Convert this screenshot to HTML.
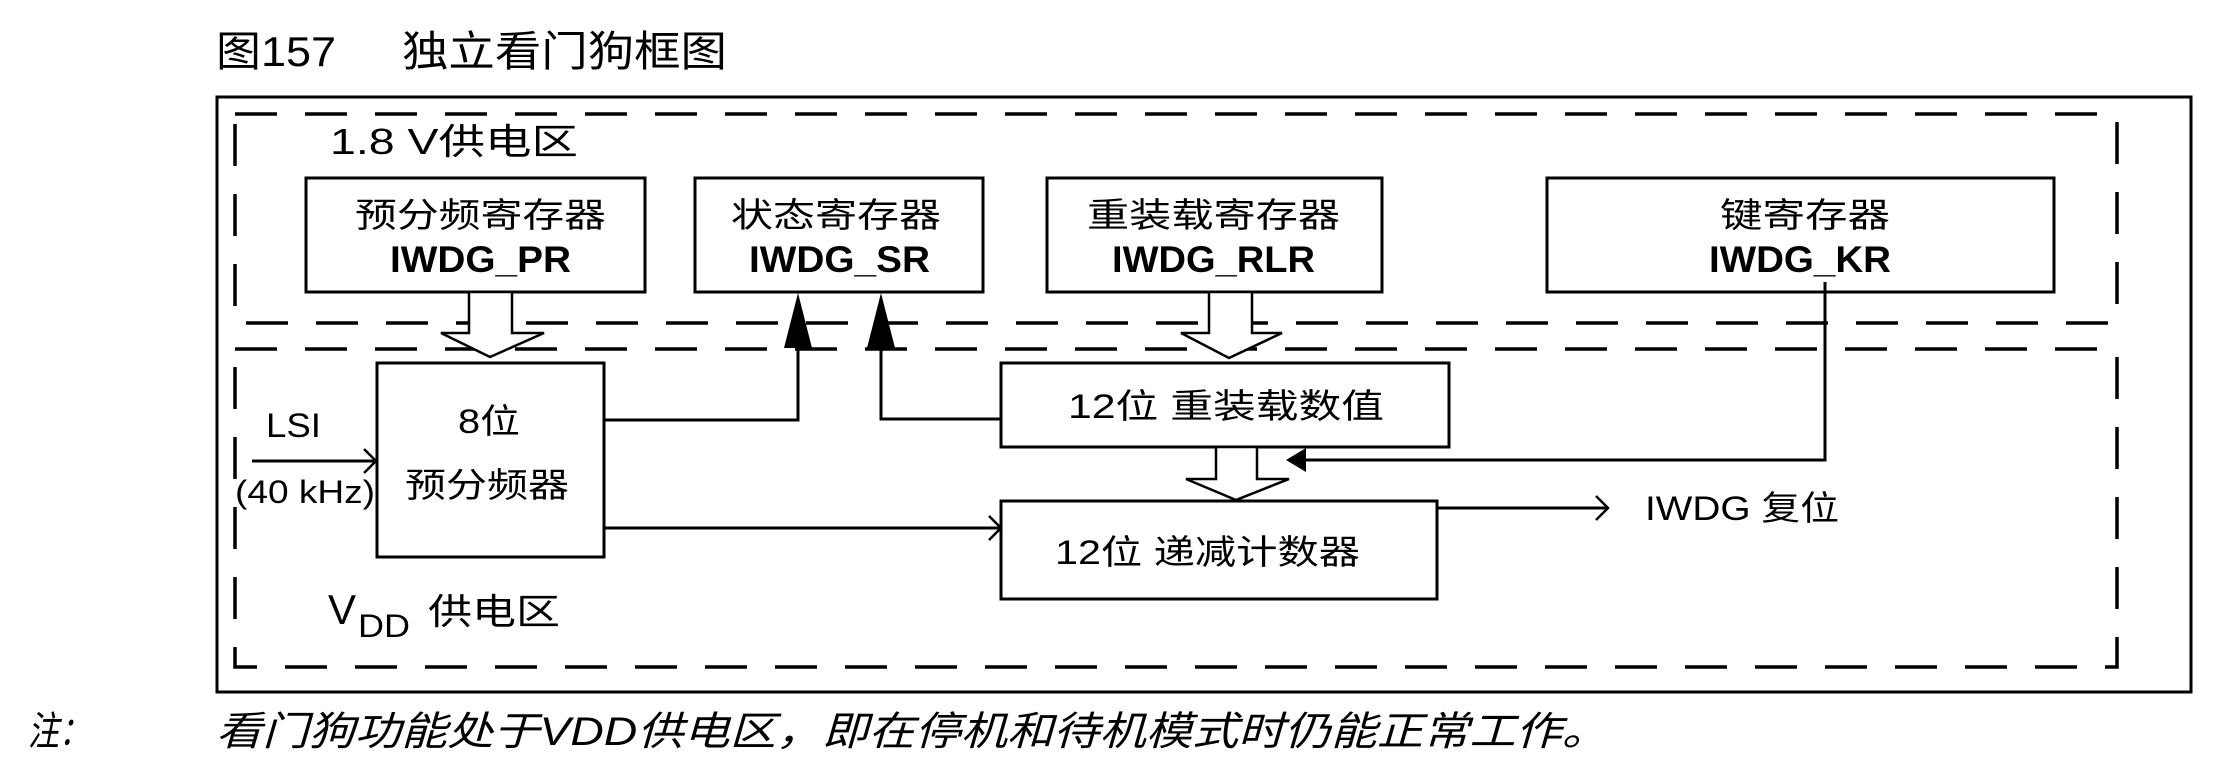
<!DOCTYPE html>
<html><head><meta charset="utf-8"><style>
html,body{margin:0;padding:0;background:#fff;}
svg{display:block;}
text{font-family:"Liberation Sans","Noto Sans CJK SC",sans-serif;fill:#000;}
</style></head><body>
<svg width="2223" height="779" viewBox="0 0 2223 779" xmlns="http://www.w3.org/2000/svg">
<!-- title -->
<text x="216" y="66" font-size="42" textLength="120" lengthAdjust="spacingAndGlyphs">图157</text>
<text x="402" y="66" font-size="42" textLength="325" lengthAdjust="spacingAndGlyphs">独立看门狗框图</text>

<!-- outer box -->
<rect x="217" y="97" width="1974" height="595" fill="none" stroke="#000" stroke-width="3"/>
<!-- dashed regions -->
<rect x="235" y="114" width="1882" height="209" fill="none" stroke="#000" stroke-width="3.5" stroke-dasharray="42 28"/>
<rect x="235" y="349" width="1882" height="318" fill="none" stroke="#000" stroke-width="3.5" stroke-dasharray="42 28"/>

<text x="330" y="154" font-size="36" textLength="248" lengthAdjust="spacingAndGlyphs">1.8 V供电区</text>

<!-- top boxes -->
<g fill="#fff" stroke="#000" stroke-width="3">
<rect x="306" y="178" width="339" height="114"/>
<rect x="695" y="178" width="288" height="114"/>
<rect x="1047" y="178" width="335" height="114"/>
<rect x="1547" y="178" width="507" height="114"/>
</g>
<g font-size="34">
<text x="355" y="227" textLength="251" lengthAdjust="spacingAndGlyphs">预分频寄存器</text>
<text x="731" y="227" textLength="210" lengthAdjust="spacingAndGlyphs">状态寄存器</text>
<text x="1087" y="227" textLength="253" lengthAdjust="spacingAndGlyphs">重装载寄存器</text>
<text x="1720" y="227" textLength="170" lengthAdjust="spacingAndGlyphs">键寄存器</text>
</g>
<g font-size="37" font-weight="bold">
<text x="390" y="272" textLength="181" lengthAdjust="spacingAndGlyphs">IWDG_PR</text>
<text x="749" y="272" textLength="181" lengthAdjust="spacingAndGlyphs">IWDG_SR</text>
<text x="1112" y="272" textLength="203" lengthAdjust="spacingAndGlyphs">IWDG_RLR</text>
<text x="1709" y="272" textLength="182" lengthAdjust="spacingAndGlyphs">IWDG_KR</text>
</g>

<!-- lower boxes -->
<g fill="#fff" stroke="#000" stroke-width="3">
<rect x="377" y="363" width="227" height="194"/>
<rect x="1001" y="363" width="448" height="84"/>
<rect x="1001" y="501" width="436" height="98"/>
</g>
<text x="458" y="433" font-size="34" textLength="62" lengthAdjust="spacingAndGlyphs">8位</text>
<text x="405" y="497" font-size="34" textLength="164" lengthAdjust="spacingAndGlyphs">预分频器</text>
<text x="1068" y="418" font-size="34" textLength="316" lengthAdjust="spacingAndGlyphs">12位 重装载数值</text>
<text x="1055" y="564" font-size="34" textLength="305" lengthAdjust="spacingAndGlyphs">12位 递减计数器</text>

<!-- hollow arrows -->
<g fill="#fff" stroke="#000" stroke-width="2.5" stroke-linejoin="miter">
<polygon points="469,292 512,292 512,333 544,333 490,357 441,333 469,333"/>
<polygon points="1209,292 1252,292 1252,333 1282,333 1229,358 1181,333 1209,333"/>
<polygon points="1216,447 1257,447 1257,479 1289,479 1236,500 1186,479 1216,479"/>
</g>

<!-- lines -->
<g fill="none" stroke="#000" stroke-width="3">
<polyline points="604,420 798,420 798,330"/>
<polyline points="1001,419 881,419 881,330"/>
<polyline points="1825,282 1825,460 1300,460"/>
<line x1="252" y1="461" x2="374" y2="461"/>
<line x1="604" y1="528" x2="999" y2="528"/>
<line x1="1437" y1="508" x2="1606" y2="508"/>
</g>
<!-- filled heads -->
<g fill="#000" stroke="none">
<polygon points="798,293 812,348 784,348"/>
<polygon points="881,293 895,348 867,348"/>
<polygon points="1286,460 1306,448 1306,472"/>
</g>
<!-- open heads -->
<g fill="none" stroke="#000" stroke-width="2.5">
<polyline points="364,449 376,461 364,473"/>
<polyline points="989,516 1001,528 989,540"/>
<polyline points="1596,496 1608,508 1596,520"/>
</g>

<text x="266" y="437" font-size="34" textLength="55" lengthAdjust="spacingAndGlyphs">LSI</text>
<text x="235" y="503" font-size="32" textLength="140" lengthAdjust="spacingAndGlyphs">(40 kHz)</text>
<text x="1645" y="520" font-size="34" textLength="194" lengthAdjust="spacingAndGlyphs">IWDG 复位</text>

<text x="328" y="624" font-size="42" textLength="28" lengthAdjust="spacingAndGlyphs">V</text>
<text x="358" y="637" font-size="32" textLength="52" lengthAdjust="spacingAndGlyphs">DD</text>
<text x="428" y="624" font-size="36" textLength="132" lengthAdjust="spacingAndGlyphs">供电区</text>

<!-- note -->
<text x="28" y="745" font-size="40" font-style="italic" textLength="62" lengthAdjust="spacingAndGlyphs">注：</text>
<text x="216" y="745" font-size="40" font-style="italic" textLength="1392" lengthAdjust="spacingAndGlyphs">看门狗功能处于VDD供电区，即在停机和待机模式时仍能正常工作。</text>
</svg>
</body></html>
